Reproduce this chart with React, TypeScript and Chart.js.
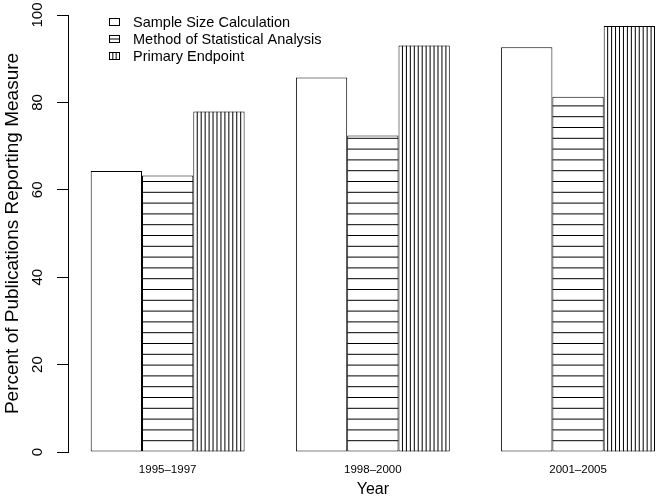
import React, { useEffect, useRef } from 'react';
import { Chart, registerables } from 'chart.js';

Chart.register(...registerables);

// ---- data ----
const CATEGORIES = ['1995–1997', '1998–2000', '2001–2005'];
const SERIES_LABELS = ['Sample Size Calculation', 'Method of Statistical Analysis', 'Primary Endpoint'];
const SAMPLE_SIZE = [64.3, 85.7, 92.6];
const METHOD_ANALYSIS = [63.3, 72.4, 81.3];
const PRIMARY_ENDPOINT = [77.9, 93.0, 97.5];
const Y_TICKS = [0, 20, 40, 60, 80, 100];
const X_TITLE = 'Year';
const Y_TITLE = 'Percent of Publications Reporting Measure';

// ---- styles ----
const FONT = '"Liberation Sans", Arial, Helvetica, sans-serif';
const HATCH = ['none', 'h', 'v'];
const H_SPACING = 10.8;
const V_SPACING = 3.95;

function hatchRect(ctx: CanvasRenderingContext2D, kind: string, left: number, top: number, right: number, bottom: number, hs: number, vs: number) {
  if (kind === 'none') return;
  ctx.save();
  ctx.beginPath();
  ctx.rect(left, top, right - left, bottom - top);
  ctx.clip();
  ctx.strokeStyle = '#000';
  ctx.lineWidth = 1;
  ctx.beginPath();
  if (kind === 'h') {
    for (let yy = bottom - hs; yy > top + 1; yy -= hs) {
      ctx.moveTo(left, yy);
      ctx.lineTo(right, yy);
    }
  } else {
    for (let xx = left + vs; xx < right - 1; xx += vs) {
      ctx.moveTo(xx, top);
      ctx.lineTo(xx, bottom);
    }
  }
  ctx.stroke();
  ctx.restore();
}

const hatchPlugin = {
  id: 'hatchBars',
  afterDatasetsDraw(chart: any) {
    const ctx = chart.ctx as CanvasRenderingContext2D;
    chart.data.datasets.forEach((_ds: any, di: number) => {
      const kind = HATCH[di];
      const meta = chart.getDatasetMeta(di);
      meta.data.forEach((el: any) => {
        const { x, y, base, width } = el.getProps(['x', 'y', 'base', 'width'], true);
        const left = x - width / 2;
        const right = x + width / 2;
        const top = Math.min(y, base);
        const bottom = Math.max(y, base);
        hatchRect(ctx, kind, left, top, right, bottom, H_SPACING, V_SPACING);
      });
    });
  },
};

const LEGEND = { left: 109.5, firstTop: 18.5, step: 17, boxW: 10, boxH: 7, textX: 133 };

const legendPlugin = {
  id: 'rLegend',
  afterDraw(chart: any) {
    const ctx = chart.ctx as CanvasRenderingContext2D;
    ctx.save();
    chart.data.datasets.forEach((ds: any, i: number) => {
      const top = LEGEND.firstTop + i * LEGEND.step;
      const left = LEGEND.left;
      ctx.fillStyle = '#fff';
      ctx.fillRect(left, top, LEGEND.boxW, LEGEND.boxH);
      const kind = HATCH[i];
      if (kind === 'h') hatchRect(ctx, 'h', left, top, left + LEGEND.boxW, top + LEGEND.boxH, LEGEND.boxH / 2, 0);
      if (kind === 'v') hatchRect(ctx, 'v', left, top, left + LEGEND.boxW, top + LEGEND.boxH, 0, LEGEND.boxW / 3);
      ctx.strokeStyle = '#000';
      ctx.lineWidth = 1;
      ctx.strokeRect(left, top, LEGEND.boxW, LEGEND.boxH);
      ctx.fillStyle = '#000';
      ctx.font = `14.5px ${FONT}`;
      ctx.textAlign = 'left';
      ctx.textBaseline = 'middle';
      ctx.fillText(ds.label, LEGEND.textX, top + LEGEND.boxH / 2 + 1);
    });
    ctx.restore();
  },
};

const xTitlePlugin = {
  id: 'xTitle',
  afterDraw(chart: any) {
    const ctx = chart.ctx as CanvasRenderingContext2D;
    const xs = chart.scales.x;
    const cx = (xs.getPixelForValue(1) + xs.getPixelForValue(CATEGORIES.length)) / 2;
    ctx.save();
    ctx.fillStyle = '#000';
    ctx.font = `16px ${FONT}`;
    ctx.textAlign = 'center';
    ctx.textBaseline = 'middle';
    ctx.fillText(X_TITLE, cx, 489.5);
    ctx.restore();
  },
};

export default function App() {
  const ref = useRef<HTMLCanvasElement>(null);
  useEffect(() => {
    const values = [SAMPLE_SIZE, METHOD_ANALYSIS, PRIMARY_ENDPOINT];
    const chart = new Chart(ref.current as HTMLCanvasElement, {
      type: 'bar',
      data: {
        datasets: values.map((arr, i) => ({
          label: SERIES_LABELS[i],
          data: arr.map((v, j) => ({ x: j + 1, y: v })),
          backgroundColor: '#fff',
          borderColor: '#000',
          borderWidth: 1,
          borderSkipped: false,
          categoryPercentage: 0.75,
          barPercentage: 1,
        })),
      },
      options: {
        animation: false,
        responsive: false,
        devicePixelRatio: 1,
        layout: { padding: { top: 15, right: 3, left: 0, bottom: 0 } },
        plugins: { legend: { display: false }, tooltip: { enabled: false } },
        scales: {
          x: {
            type: 'linear',
            offset: false,
            min: 0.5144,
            max: 3.375,
            grid: { display: false },
            border: { display: false },
            afterBuildTicks: (scale: any) => {
              scale.ticks = CATEGORIES.map((_c, i) => ({ value: i + 1 }));
            },
            afterFit: (scale: any) => {
              scale.height = 44;
            },
            ticks: {
              autoSkip: false,
              maxRotation: 0,
              minRotation: 0,
              padding: 4,
              color: '#000',
              font: { family: FONT, size: 11.5, lineHeight: 1 },
              callback: (value: any) => CATEGORIES[Math.round(Number(value)) - 1] ?? '',
            },
          },
          y: {
            type: 'linear',
            min: 0,
            max: 100,
            afterBuildTicks: (scale: any) => {
              scale.ticks = Y_TICKS.map((v) => ({ value: v }));
            },
            afterFit: (scale: any) => {
              scale.width = 68;
            },
            grid: { drawOnChartArea: false, drawTicks: true, tickLength: 11, color: '#000', lineWidth: 1 },
            border: { display: true, color: '#000', width: 1 },
            ticks: {
              minRotation: 90,
              maxRotation: 90,
              crossAlign: 'center',
              padding: 7,
              color: '#000',
              font: { family: FONT, size: 15, lineHeight: 1 },
            },
            title: {
              display: true,
              text: Y_TITLE,
              color: '#000',
              font: { family: FONT, size: 19, lineHeight: 1 },
              padding: { top: 3.5, bottom: 0 },
            },
          },
        },
      } as any,
      plugins: [hatchPlugin, legendPlugin, xTitlePlugin],
    });
    return () => chart.destroy();
  }, []);
  return (
    <div style={{ position: 'fixed', left: 0, top: 0, width: 658, height: 496, background: '#fff' }}>
      <canvas ref={ref} width={658} height={496} style={{ display: 'block', width: 658, height: 496 }} />
    </div>
  );
}
